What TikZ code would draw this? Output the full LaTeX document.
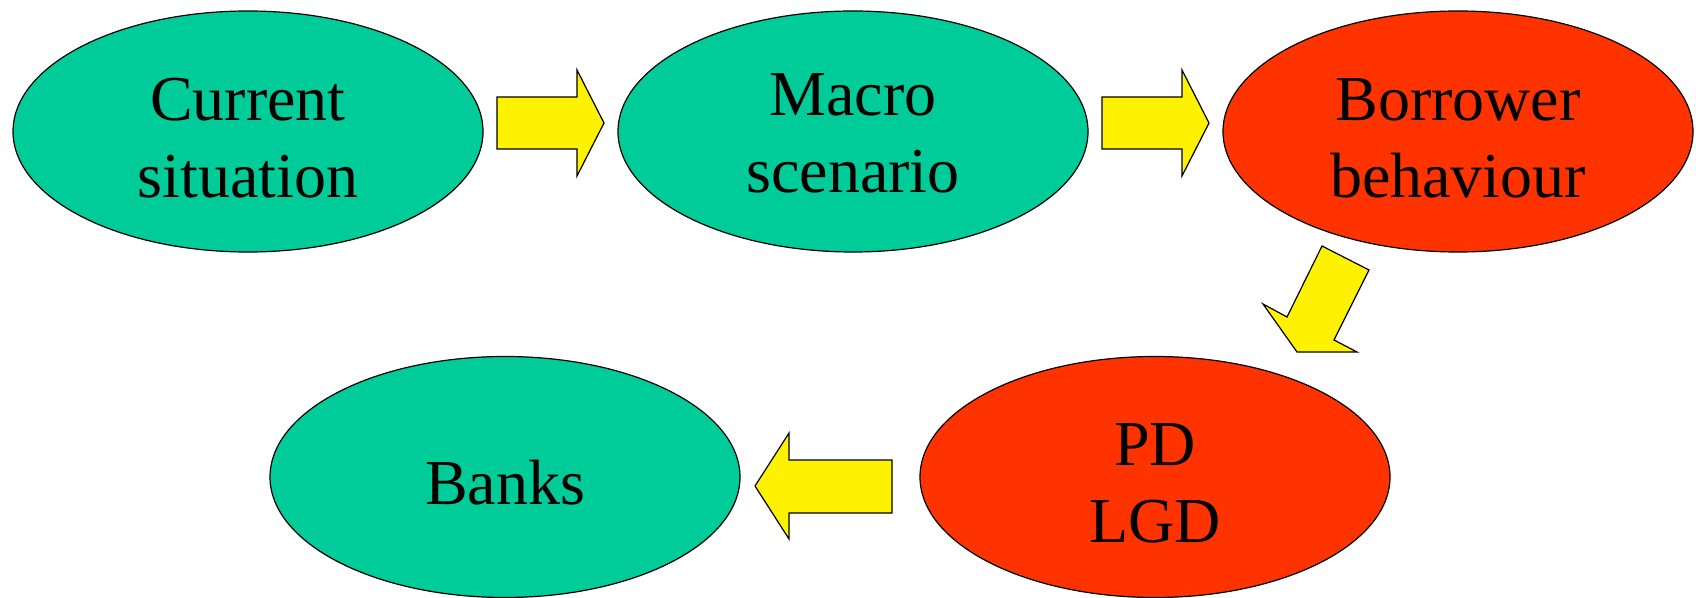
\documentclass[tikz,border=0pt]{standalone}
\usepackage{fontspec}
\setmainfont{Liberation Serif}
\usetikzlibrary{shapes.geometric}

\definecolor{stressgreen}{RGB}{0,204,153}
\definecolor{stressred}{RGB}{255,51,0}

\tikzset{
  stage/.style={ellipse, draw=black, line width=0.6pt, inner sep=0pt,
    minimum width=235pt, minimum height=120.5pt, align=center,
    font=\fontsize{32}{38.4}\selectfont},
  lowtext/.style={execute at begin node={\rule{0pt}{#1}}},
  blockarrow/.style={draw=black, fill=yellow, line width=0.6pt, line join=miter}
}

\begin{document}
\begin{tikzpicture}[x=0.5pt,y=-0.5pt]

\useasboundingbox (0,0) rectangle (1696,598);

% top row
\node[stage, lowtext=66pt, fill=stressgreen] (cur) at (248,131.5) {Current\\situation};
\node[stage, lowtext=61pt, fill=stressgreen] (macro) at (853,131.5) {Macro\\scenario};
\node[stage, lowtext=66pt, fill=stressred] (borrow) at (1458,131.5) {Borrower\\behaviour};

% bottom row
\node[stage, lowtext=66pt, fill=stressred] (pdlgd) at (1155,477) {PD\\LGD};
\node[stage, lowtext=28pt, fill=stressgreen] (banks) at (505,477) {Banks};

% right arrows
\foreach \dx in {0,605}
\draw[blockarrow, xshift=\dx*0.5pt] (497,97) -- (577,97) -- (577,70) -- (604,123)
  -- (577,176) -- (577,149) -- (497,149) -- cycle;

% down arrow
\draw[blockarrow] (1322,246) -- (1369,270) -- (1334,340) -- (1357,352)
  -- (1297,352) -- (1263,304) -- (1287,317) -- cycle;

% left arrow
\draw[blockarrow] (892,460) -- (789,460) -- (789,433) -- (755,486)
  -- (789,539) -- (789,513) -- (892,513) -- cycle;

\end{tikzpicture}
\end{document}
